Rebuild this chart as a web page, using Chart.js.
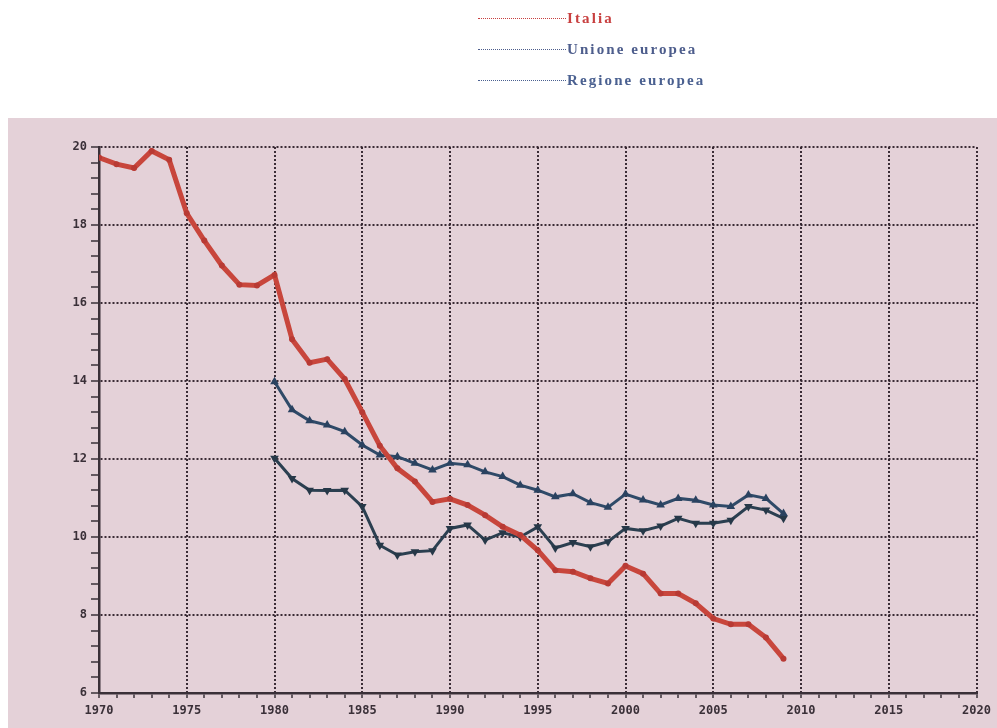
<!DOCTYPE html>
<html>
<head>
<meta charset="utf-8">
<script src="https://cdn.jsdelivr.net/npm/chart.js@4.4.0/dist/chart.umd.min.js"></script>
<style>
  body { margin: 0; background: #fff; }
  #wrap { position: relative; width: 997px; height: 728px; }
  .leg { position: absolute; left: 478px; height: 16px; font-family: "Liberation Serif", serif; font-weight: bold; font-size: 15px; letter-spacing: 2.1px; line-height: 16px; }
  .leg span.ln { position: absolute; left: 0; top: 8px; width: 88px; border-top: 1.5px dotted; }
  .leg span.tx { position: absolute; left: 89px; top: 0; white-space: nowrap; }
</style>
</head>
<body>
<div id="wrap">
  <canvas id="line_graph" width="997" height="728"></canvas>
  <div class="leg" style="top:10px;color:#c84040"><span class="ln"></span><span class="tx">Italia</span></div>
  <div class="leg" style="top:41px;color:#4d5d8c"><span class="ln"></span><span class="tx">Unione europea</span></div>
  <div class="leg" style="top:72px;color:#4a6090"><span class="ln"></span><span class="tx">Regione europea</span></div>
</div>
<script>
// data
var yearsItalia = [1970,1971,1972,1973,1974,1975,1976,1977,1978,1979,
                   1980,1981,1982,1983,1984,1985,1986,1987,1988,1989,
                   1990,1991,1992,1993,1994,1995,1996,1997,1998,1999,
                   2000,2001,2002,2003,2004,2005,2006,2007,2008,2009];
var italia = [19.73,19.56,19.46,19.9,19.67,18.3,17.6,16.96,16.47,16.45,
              16.72,15.07,14.47,14.56,14.05,13.2,12.34,11.76,11.42,10.9,
              10.98,10.82,10.56,10.26,10.05,9.66,9.15,9.11,8.94,8.81,
              9.26,9.06,8.55,8.55,8.3,7.91,7.76,7.76,7.42,6.88];
var yearsEuropa = [1980,1981,1982,1983,1984,1985,1986,1987,1988,1989,
                   1990,1991,1992,1993,1994,1995,1996,1997,1998,1999,
                   2000,2001,2002,2003,2004,2005,2006,2007,2008,2009];
var unioneEuropea = [13.98,13.26,12.98,12.87,12.7,12.36,12.1,12.06,11.89,11.72,
                     11.89,11.85,11.67,11.55,11.33,11.2,11.03,11.11,10.88,10.76,
                     11.1,10.95,10.82,10.99,10.94,10.82,10.78,11.08,10.99,10.6];
var regioneEuropea = [12.02,11.5,11.2,11.19,11.2,10.78,9.79,9.54,9.62,9.65,
                      10.22,10.31,9.92,10.11,10.0,10.26,9.72,9.86,9.75,9.88,
                      10.22,10.16,10.28,10.48,10.35,10.35,10.43,10.78,10.69,10.48];
var xMin = 1970, xMax = 2020, yMin = 6, yMax = 20;

function pts(xs, ys) {
  return xs.map(function (x, i) { return {x: x, y: ys[i]}; });
}

var gridDark = 'rgba(50,35,45,0.95)';
var tickFont = {family: '"DejaVu Sans Mono", monospace', size: 12, weight: 'bold'};

//pink panel behind the plot
var panel = {
  id: 'panel',
  beforeDraw: function (chart) {
    var c = chart.ctx;
    c.save();
    c.fillStyle = '#ffffff';
    c.fillRect(0, 0, chart.width, chart.height);
    c.fillStyle = '#e4d1d8';
    c.fillRect(8, 118, chart.width - 8, chart.height - 118);
    c.restore();
  }
};

var isMajorY = function (v) {
  var r = Math.round(v);
  return Math.abs(v - r) < 0.01 && r % 2 === 0;
};

var ctx = document.getElementById('line_graph');
var chart = new Chart(ctx, {
  type: 'line',
  data: {
    datasets: [
      {
        label: 'Italia',
        data: pts(yearsItalia, italia),
        borderColor: '#c8463c',
        backgroundColor: '#b83a34',
        borderWidth: 5,
        pointRadius: 3,
        pointBorderWidth: 0,
        tension: 0
      },
      {
        label: 'Unione europea',
        data: pts(yearsEuropa, unioneEuropea),
        borderColor: '#2f4a68',
        backgroundColor: '#2a4260',
        borderWidth: 3,
        pointStyle: 'triangle',
        pointRadius: 5,
        pointBorderWidth: 0,
        tension: 0
      },
      {
        label: 'Regione europea',
        data: pts(yearsEuropa, regioneEuropea),
        borderColor: '#2b3f50',
        backgroundColor: '#263848',
        borderWidth: 3,
        pointStyle: 'triangle',
        pointRotation: 180,
        pointRadius: 5,
        pointBorderWidth: 0,
        tension: 0
      }
    ]
  },
  options: {
    responsive: false,
    animation: false,
    layout: { padding: { left: 20, top: 147, right: 17, bottom: 0 } },
    plugins: {
      legend: { display: false },
      tooltip: { enabled: false }
    },
    scales: {
      x: {
        type: 'linear',
        min: xMin,
        max: xMax,
        afterFit: function (s) { s.height = 35; },
        ticks: {
          stepSize: 1,
          autoSkip: false,
          maxRotation: 0,
          padding: 6,
          color: '#3a3038',
          font: tickFont,
          callback: function (v) { return v % 5 === 0 ? String(v) : ''; }
        },
        grid: {
          color: function (c) { return c.tick && c.tick.value % 5 === 0 ? gridDark : 'rgba(0,0,0,0)'; },
          lineWidth: 2,
          tickColor: '#3a3038',
          tickLength: 5,
          tickWidth: 1.5
        },
        border: { display: true, color: '#3a3038', width: 2.5, dash: [2, 2] }
      },
      y: {
        min: yMin,
        max: yMax,
        afterFit: function (s) { s.width = 79; },
        ticks: {
          stepSize: 0.4,
          autoSkip: false,
          padding: 4,
          color: '#3a3038',
          font: tickFont,
          callback: function (v) { return isMajorY(v) ? String(Math.round(v)) : ''; }
        },
        grid: {
          color: function (c) { return c.tick && isMajorY(c.tick.value) ? gridDark : 'rgba(0,0,0,0)'; },
          lineWidth: 2,
          tickColor: '#3a3038',
          tickLength: 8,
          tickWidth: 1.5
        },
        border: { display: true, color: '#3a3038', width: 2.5, dash: [2, 2] }
      }
    }
  },
  plugins: [panel]
});
</script>
</body>
</html>
